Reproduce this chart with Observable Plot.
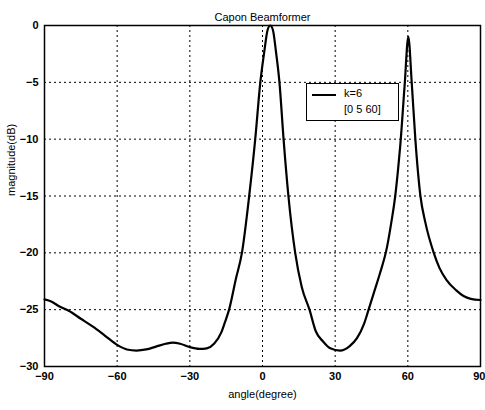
<!DOCTYPE html>
<html>
<head>
<meta charset="utf-8">
<script src="https://cdn.jsdelivr.net/npm/d3@7"></script>
<script src="https://cdn.jsdelivr.net/npm/@observablehq/plot@0.6"></script>
<style>
  html, body { margin: 0; padding: 0; background: white; }
  #wrap { position: relative; width: 485px; height: 410px; font-family: "Liberation Sans", Arial, sans-serif; }
  #legend { position: absolute; left: 306px; top: 83px; width: 91px; height: 36px; border: 1px solid black; background: white; font-size: 11px; }
  #legend .row { position: absolute; left: 37px; white-space: nowrap; }
  #legend .sample { position: absolute; left: 5px; width: 24px; top: 10px; border-top: 2px solid black; }
</style>
</head>
<body>
<div id="wrap"></div>
<script>
// Chart text
const titleText = "Capon Beamformer";
const xLabel = "angle(degree)";
const yLabel = "magnitude(dB)";
const legendLabels = ["k=6", "[0 5 60]"];

// Tick values
const xTicks = [-90, -60, -30, 0, 30, 60, 90];
const yTicks = [0, -5, -10, -15, -20, -25, -30];

// Series values
const angles = [-90, -87, -84, -80, -75, -70, -65, -60, -56, -52, -48, -44, -40, -37, -34, -30, -26, -23, -20, -17, -15.5, -13.8, -11, -8.5, -5.5, -3, -0.9, 0.8, 2.1, 3.2, 4.3, 5.5, 7, 8.7, 10.7, 13.5, 16.2, 19.4, 22, 25, 28, 32, 36, 39, 42, 43.8, 46, 48.5, 51.4, 53.2, 54.8, 56, 56.9, 58.7, 60.2, 61.6, 63.1, 65.2, 67.2, 70.7, 73, 76, 80, 83, 86, 90];
const magnitudes = [-24.1, -24.3, -24.7, -25.1, -25.8, -26.5, -27.3, -28.1, -28.5, -28.6, -28.5, -28.25, -28.0, -27.9, -28.0, -28.3, -28.45, -28.4, -28.0, -27.0, -26.1, -25, -22.3, -20, -15, -10, -5, -2.2, -0.4, 0, -0.4, -2.2, -5, -10, -15, -20, -23, -25, -26.9, -27.8, -28.4, -28.6, -28.2, -27.5, -26.2, -25, -23.5, -21.8, -19.5, -17.3, -15, -12.6, -10.5, -5.2, -1.0, -5, -10, -15, -17.3, -20, -21.3, -22.4, -23.3, -23.8, -24.05, -24.15];

const data = angles.map((a, i) => ({angle: a, db: magnitudes[i]}));

const chart = Plot.plot({
  width: 485,
  height: 410,
  marginLeft: 44,
  marginRight: 5,
  marginTop: 25,
  marginBottom: 44,
  style: {fontFamily: "Liberation Sans, Arial, sans-serif", fontSize: "11px", background: "white", color: "black"},
  x: {domain: [-90, 90]},
  y: {domain: [-30, 0]},
  marks: [
    Plot.gridX(xTicks, {stroke: "black", strokeOpacity: 1, strokeWidth: 1, strokeDasharray: "2,3"}),
    Plot.gridY(yTicks, {stroke: "black", strokeOpacity: 1, strokeWidth: 1, strokeDasharray: "2,3"}),
    Plot.line(data, {x: "angle", y: "db", stroke: "black", strokeWidth: 2.2, curve: "monotone-x"}),
    Plot.frame({stroke: "black", strokeWidth: 1.5}),
    Plot.axisX(xTicks.slice(0, -1), {tickSize: 0, tickPadding: 6, fontWeight: "bold", fontSize: 11, label: null}),
    Plot.axisX(xTicks.slice(-1), {tickSize: 0, tickPadding: 6, fontWeight: "bold", fontSize: 11, label: null, textAnchor: "end", dx: 5}),
    Plot.axisY(yTicks, {tickSize: 0, tickPadding: 6, fontWeight: "bold", fontSize: 11, label: null}),
    Plot.text([xLabel], {frameAnchor: "bottom", dy: 31, fontSize: 11, text: d => d}),
    Plot.text([yLabel], {frameAnchor: "left", dx: -33, rotate: -90, fontSize: 11, text: d => d}),
    Plot.text([titleText], {frameAnchor: "top", dy: -12, fontSize: 11, text: d => d})
  ]
});

const wrap = document.getElementById("wrap");
wrap.appendChild(chart);

const legend = document.createElement("div");
legend.id = "legend";
const sample = document.createElement("div");
sample.className = "sample";
legend.appendChild(sample);
legendLabels.forEach((t, i) => {
  const r = document.createElement("div");
  r.className = "row";
  r.style.top = (3 + i * 16) + "px";
  r.textContent = t;
  legend.appendChild(r);
});
wrap.appendChild(legend);
</script>
</body>
</html>
